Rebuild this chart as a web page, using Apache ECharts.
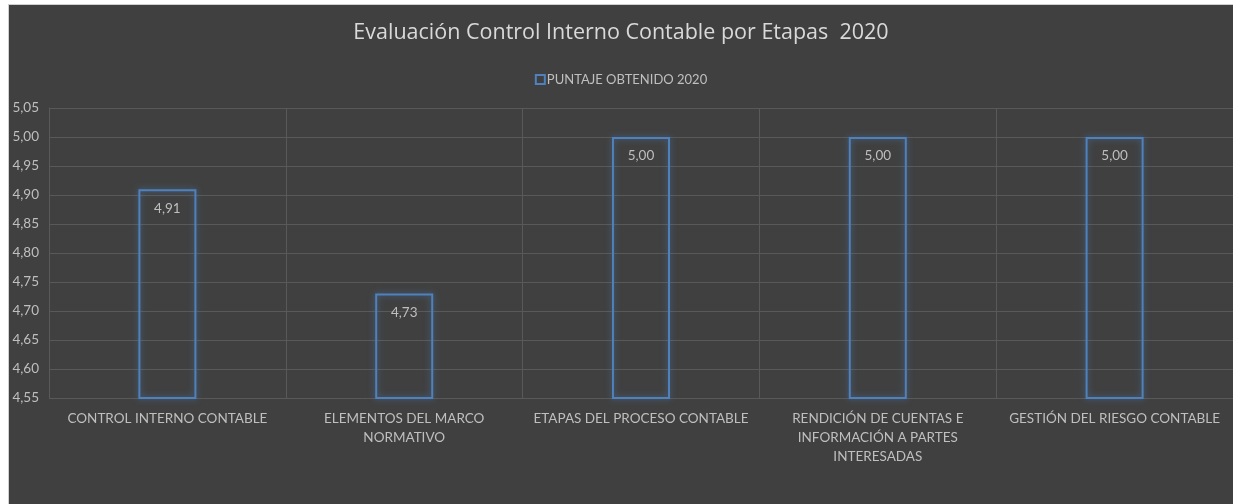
<!DOCTYPE html>
<html>
<head>
<meta charset="utf-8">
<script src="https://cdn.jsdelivr.net/npm/echarts@6/dist/echarts.min.js"></script>
<style>
  html, body { margin:0; padding:0; background:#ffffff; }
  #main { position:absolute; left:8px; top:4px; width:1225px; height:500px;
          background:#404040; border-left:1px solid #d0d0d0; border-top:1px solid #d0d0d0; box-sizing:border-box; }
</style>
</head>
<body>
<div id="main"></div>
<script>
// 数据
var categorias = ['CONTROL INTERNO CONTABLE', 'ELEMENTOS DEL MARCO\nNORMATIVO', 'ETAPAS DEL PROCESO CONTABLE',
                  'RENDICIÓN DE CUENTAS E\nINFORMACIÓN A PARTES\nINTERESADAS', 'GESTIÓN DEL RIESGO CONTABLE'];
var puntaje2020 = [4.91, 4.73, 5.00, 5.00, 5.00];
var serieNombre = 'PUNTAJE OBTENIDO 2020';
var tituloTexto = 'Evaluación Control Interno Contable por Etapas  2020';

function coma(v){
	return Number(v).toFixed(2).replace('.', ',');
}

var myChart = echarts.init(document.getElementById('main'));
var option = {
	backgroundColor: '#404040',
	title: {
		text: tituloTexto,
		left: 'center',
		top: 12,
		textStyle: { color: '#d9d9d9', fontSize: 21.5, fontWeight: 'normal', fontFamily: 'Open Sans' }
	},
	legend: {
		data: [serieNombre],
		top: 63,
		left: 'center',
		itemWidth: 9,
		itemHeight: 9,
		itemGap: 2,
		icon: 'rect',
		textStyle: { color: '#bfbfbf', fontSize: 13, fontFamily: 'Lato', padding: [0, 0, 0, -3] }
	},
	grid: {
		left: 40,
		right: -1,
		top: 103,
		bottom: 106
	},
	xAxis: [{
		type: 'category',
		data: categorias,
		axisLine: { show: false },
		axisTick: { show: false },
		splitLine: { show: true, lineStyle: { color: '#595959', width: 1 } },
		axisLabel: {
			color: '#bfbfbf', fontSize: 13.5, fontFamily: 'Lato', interval: 0,
			lineHeight: 19, margin: 11, align: 'center'
		}
	}],
	yAxis: [{
		type: 'value',
		min: 4.55,
		max: 5.05,
		interval: 0.05,
		axisLine: { show: true, lineStyle: { color: '#595959' } },
		axisTick: { show: false },
		splitLine: { show: true, lineStyle: { color: '#595959', width: 1 } },
		axisLabel: {
			color: '#bfbfbf', fontSize: 13.5, fontFamily: 'Lato', margin: 10,
			formatter: function(v){ return coma(v); }
		}
	}],
	series: [{
		name: serieNombre,
		type: 'bar',
		barWidth: '24.5%',
		data: puntaje2020,
		itemStyle: {
			color: 'rgba(64,64,64,0)',
			borderColor: '#4f81bd',
			borderWidth: 2,
			shadowColor: 'rgba(79,129,189,0.7)',
			shadowBlur: 6
		},
		label: {
			show: true,
			position: 'insideTop',
			distance: 12,
			color: '#bfbfbf',
			fontSize: 13.5,
			fontFamily: 'Lato',
			formatter: function(p){ return coma(p.value); }
		}
	}]
};
myChart.setOption(option);
</script>
</body>
</html>
